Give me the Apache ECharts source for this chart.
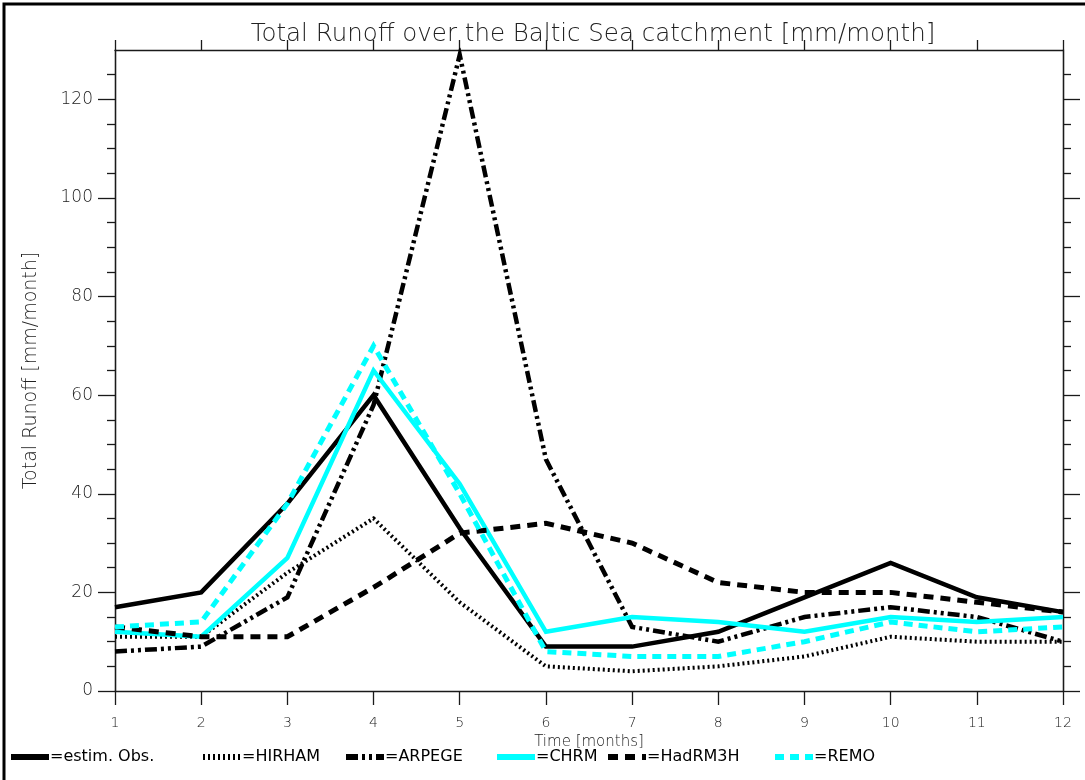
<!DOCTYPE html>
<html>
<head>
<meta charset="utf-8">
<script src="https://cdn.jsdelivr.net/npm/echarts@6/dist/echarts.min.js"></script>
<style>
html,body{margin:0;padding:0;background:#fff;}
#chart{width:1085px;height:780px;}
</style>
</head>
<body>
<div id="chart"></div>
<script>
// ---- data ----
const months = [1,2,3,4,5,6,7,8,9,10,11,12];
const obs     = [17, 20, 38, 60, 33, 9, 9, 12, 19, 26, 19, 16];
const hirham  = [11, 11, 24, 35, 18, 5, 4, 5, 7, 11, 10, 10];
const arpege  = [8, 9, 19, 58, 129, 47, 13, 10, 15, 17, 15, 10];
const chrm    = [12, 11, 27, 65, 42, 12, 15, 14, 12, 15, 14, 15];
const hadrm3h = [13, 11, 11, 21, 32, 34, 30, 22, 20, 20, 18, 16];
const remo    = [13, 14, 38, 70, 40, 8, 7, 7, 10, 14, 12, 13];
const seriesNames = ['estim. Obs.', 'HIRHAM', 'ARPEGE', 'CHRM', 'HadRM3H', 'REMO'];
const yMajorTicks = [0, 20, 40, 60, 80, 100, 120];
const yMinorTicks = [5, 10, 15, 25, 30, 35, 45, 50, 55, 65, 70, 75, 85, 90, 95, 105, 110, 115, 125];
const xTicks = months;

const pairs = arr => months.map((m, i) => [m, arr[i]]);

const FONT = 'DejaVu Sans';
const axisCol = '#1a1a1a';
const txtCol = '#222';

function mkSeries(name, data, color, width, type) {
  return {
    name: name, type: 'line', data: pairs(data), symbol: 'none',
    xAxisIndex: 0, yAxisIndex: 0,
    lineStyle: { color: color, width: width, type: type, cap: 'butt', join: 'miter' },
    itemStyle: { color: color },
    emphasis: { disabled: true },
    animation: false
  };
}

const yBase = { type: 'value', min: 0, max: 130, splitLine: { show: false },
  axisLine: { show: true, onZero: false, lineStyle: { color: axisCol, width: 1.3 } } };

const legendX = [8, 200, 343, 494, 605, 772];

const option = {
  animation: false,
  backgroundColor: '#fff',
  title: {
    text: 'Total Runoff over the Baltic Sea catchment [mm/month]',
    left: 588, top: 17, textAlign: 'center',
    textStyle: { fontFamily: FONT, fontWeight: 200, fontSize: 24.5, color: '#222' }
  },
  grid: { left: 115, right: 22, top: 50, bottom: 89 },
  xAxis: [
    { type: 'value', min: 1, max: 12, interval: 1, position: 'bottom',
      splitLine: { show: false },
      axisLine: { show: true, onZero: false, lineStyle: { color: axisCol, width: 1.3 } },
      axisTick: { show: true, length: 14, customValues: xTicks, lineStyle: { color: axisCol, width: 1.3 } },
      axisLabel: { margin: 25, customValues: xTicks, fontFamily: FONT, fontWeight: 200, fontSize: 14, color: txtCol },
      name: 'Time [months]', nameLocation: 'middle', nameGap: 42,
      nameTextStyle: { fontFamily: FONT, fontWeight: 200, fontSize: 15, color: '#222' }
    },
    { type: 'value', min: 1, max: 12, interval: 1, position: 'top',
      splitLine: { show: false },
      axisLine: { show: true, onZero: false, lineStyle: { color: axisCol, width: 1.3 } },
      axisTick: { show: true, length: 10, customValues: xTicks, lineStyle: { color: axisCol, width: 1.3 } },
      axisLabel: { show: false }
    }
  ],
  yAxis: [
    Object.assign({}, yBase, { position: 'left',
      axisTick: { show: true, length: 17, customValues: yMajorTicks, lineStyle: { color: axisCol, width: 1.3 } },
      axisLabel: { margin: 22, customValues: yMajorTicks, fontFamily: FONT, fontWeight: 200, fontSize: 17, color: txtCol },
      name: 'Total Runoff [mm/month]', nameLocation: 'middle', nameGap: 74,
      nameTextStyle: { fontFamily: FONT, fontWeight: 200, fontSize: 19, color: '#222' }
    }),
    Object.assign({}, yBase, { position: 'left',
      axisTick: { show: true, length: 8, customValues: yMinorTicks, lineStyle: { color: axisCol, width: 1.3 } },
      axisLabel: { show: false }
    }),
    Object.assign({}, yBase, { position: 'right',
      axisTick: { show: true, length: 17, customValues: yMajorTicks, lineStyle: { color: axisCol, width: 1.3 } },
      axisLabel: { show: false }
    }),
    Object.assign({}, yBase, { position: 'right',
      axisTick: { show: true, length: 8, customValues: yMinorTicks, lineStyle: { color: axisCol, width: 1.3 } },
      axisLabel: { show: false }
    })
  ],
  legend: seriesNames.map((n, i) => ({
    data: [n], left: legendX[i], top: 749, orient: 'horizontal',
    itemWidth: 38, itemHeight: 14, itemGap: 0, padding: 0,
    formatter: '={name}', selectedMode: false,
    itemStyle: { opacity: 0 },
    lineStyle: { width: 6 },
    textStyle: { fontFamily: FONT, fontSize: 16, color: '#000', padding: [0, 0, 0, -4] }
  })),
  graphic: [{
    type: 'polyline', silent: true,
    shape: { points: [[4, 780], [4, 4], [1085, 4]] },
    style: { stroke: '#000', lineWidth: 3, fill: null }
  }],
  series: [
    mkSeries(seriesNames[0], obs, '#000', 4.5, 'solid'),
    mkSeries(seriesNames[1], hirham, '#000', 4, [2, 3]),
    mkSeries(seriesNames[2], arpege, '#000', 4.5, [12, 4, 3, 4, 3, 4]),
    mkSeries(seriesNames[3], chrm, '#00ffff', 4.5, 'solid'),
    mkSeries(seriesNames[4], hadrm3h, '#000', 5, [10, 7]),
    mkSeries(seriesNames[5], remo, '#00ffff', 5, [9, 6])
  ]
};

const chart = echarts.init(document.getElementById('chart'), null, { renderer: 'canvas' });
chart.setOption(option);
</script>
</body>
</html>
